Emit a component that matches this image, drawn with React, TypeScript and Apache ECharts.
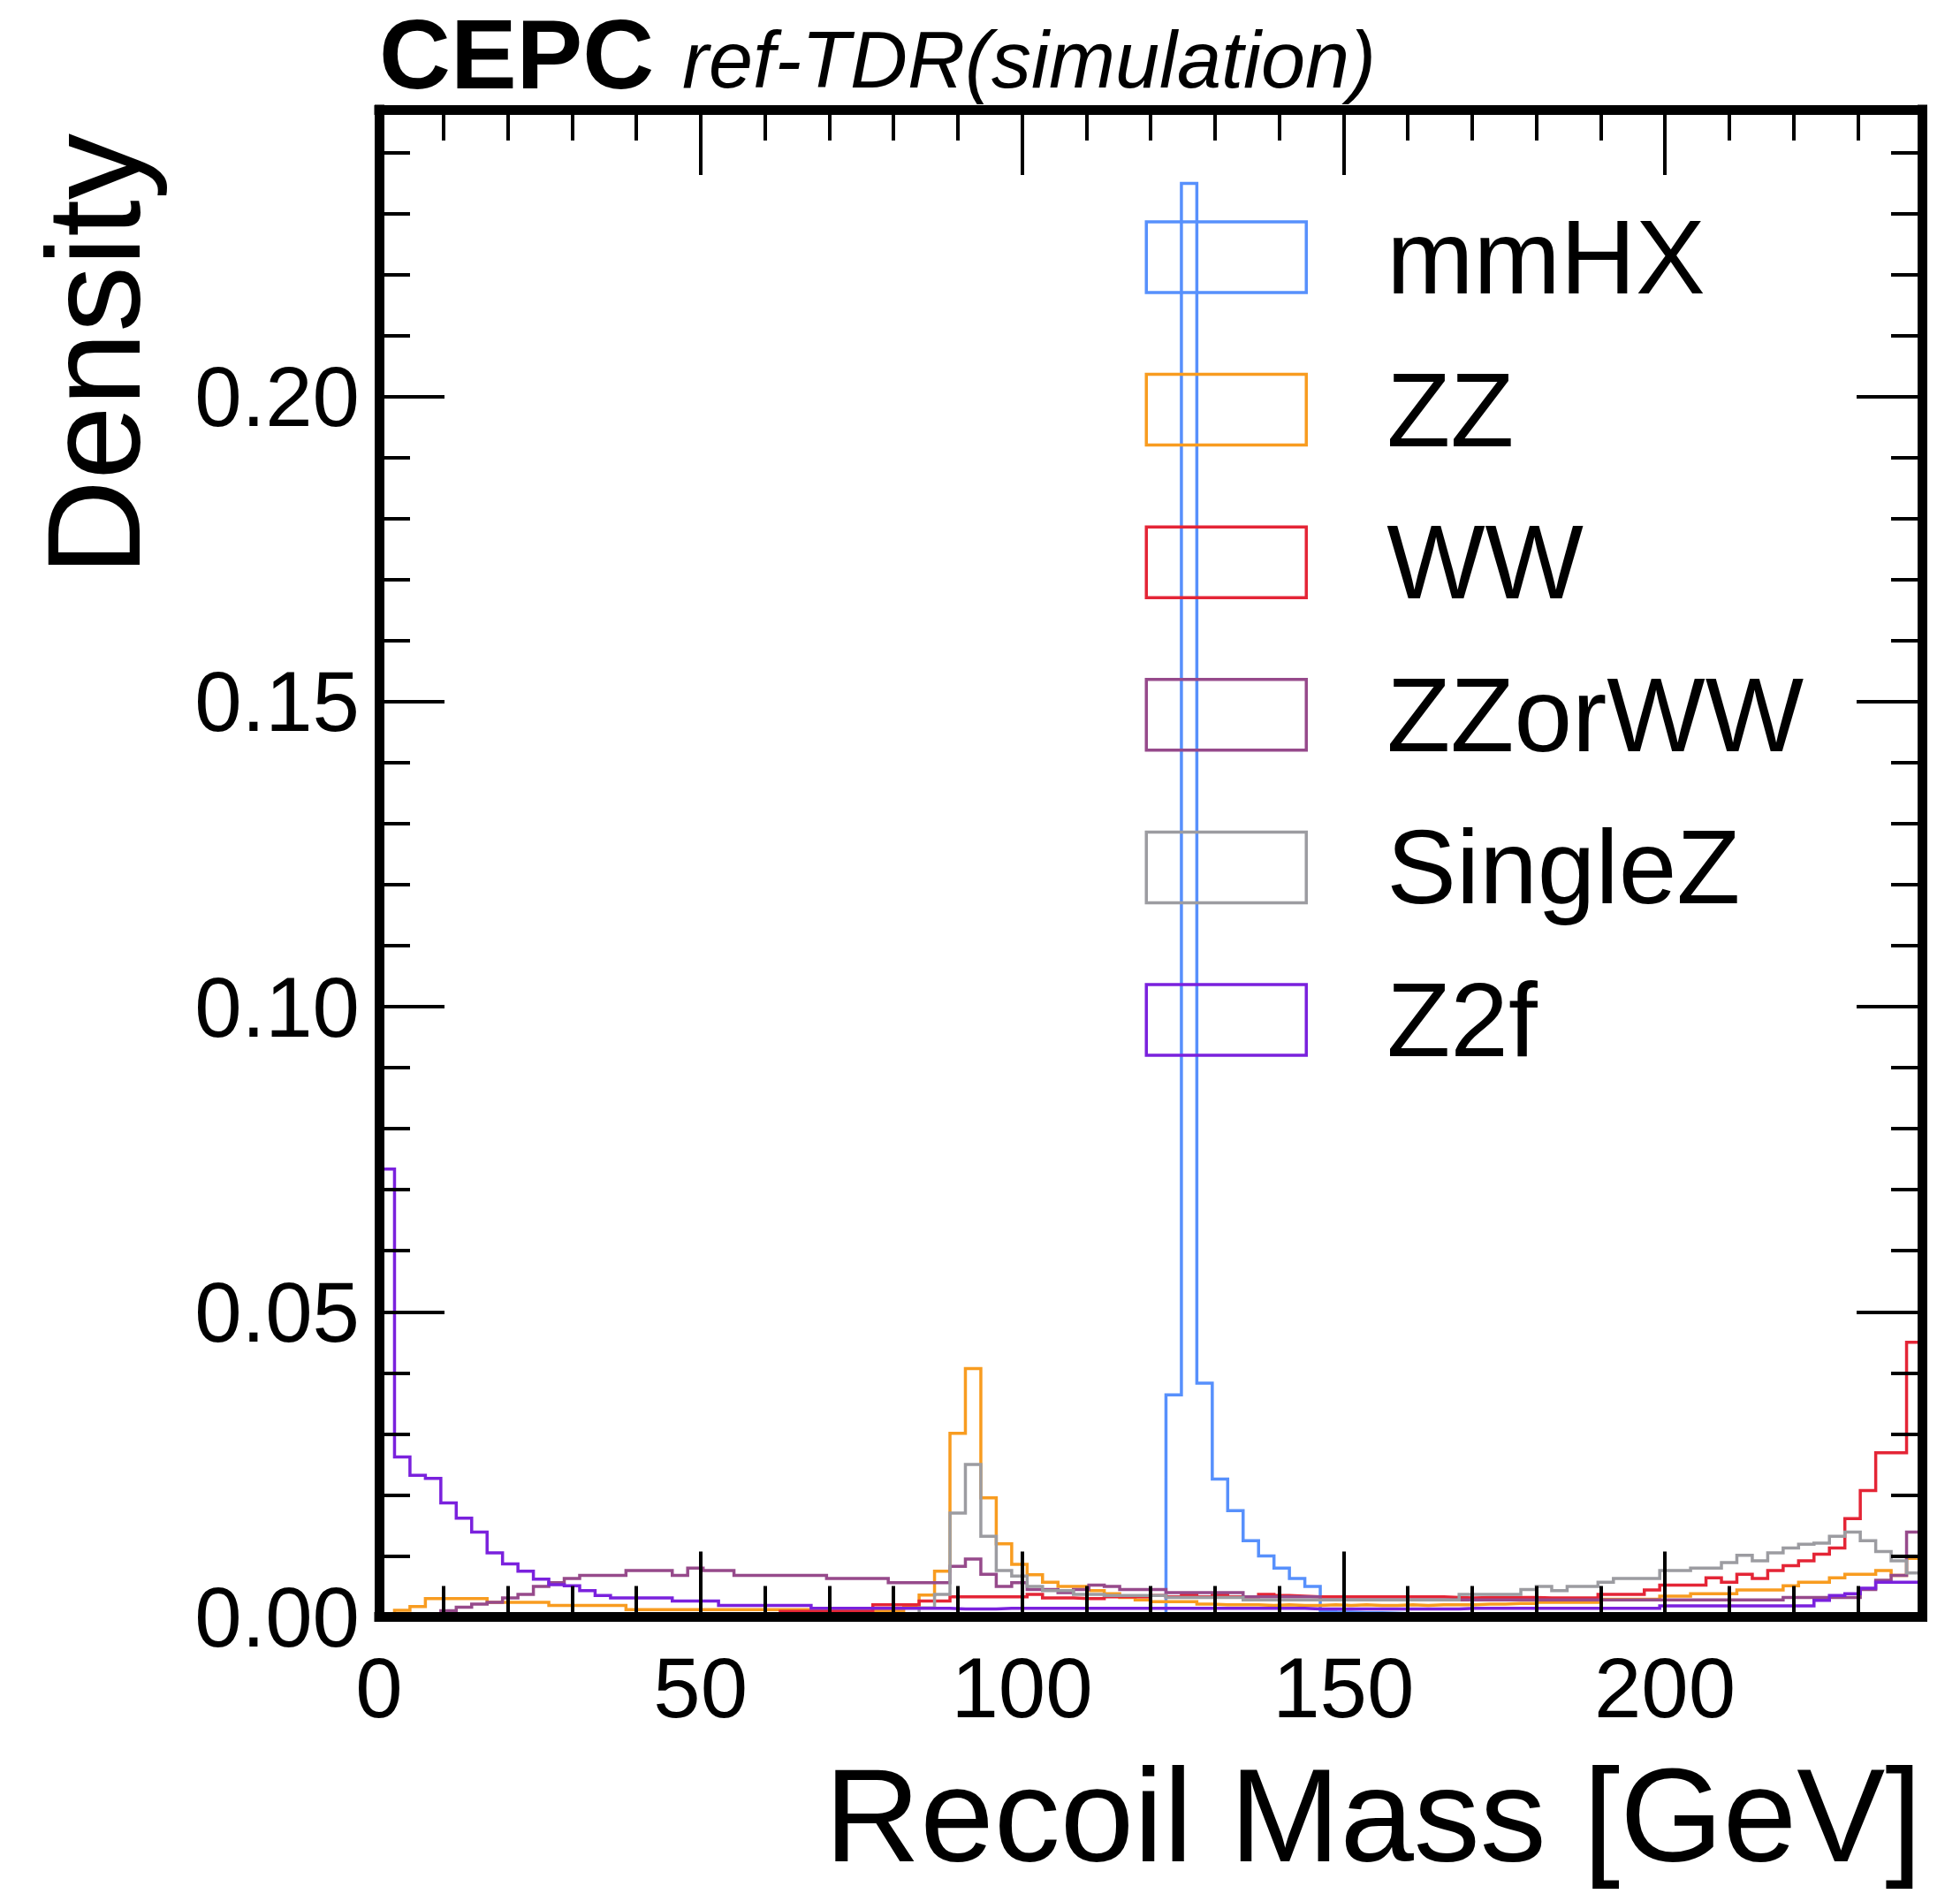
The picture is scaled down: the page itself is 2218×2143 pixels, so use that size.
import React, { useEffect, useRef } from "react";
import * as echarts from "echarts";

// ---- data ----
const BIN_WIDTH = 2.4;
const X_MIN = 0;
const X_MAX = 240;
const Y_MIN = 0;
const Y_MAX = 0.247;
const X_MAJOR = 50;
const X_MINOR = 10;
const Y_MAJOR = 0.05;
const Y_MINOR = 0.01;

const X_TITLE = "Recoil Mass [GeV]";
const Y_TITLE = "Density";
const EXPERIMENT = "CEPC";
const STATUS = "ref-TDR(simulation)";

const SERIES_NAMES = ["mmHX", "ZZ", "WW", "ZZorWW", "SingleZ", "Z2f"];
const SERIES_COLORS = ["#5790fc", "#f89c20", "#e42536", "#964a8b", "#9c9ca1", "#7a21dd"];

const mmHX = [
  0, 0, 0, 0, 0, 0, 0, 0, 0, 0,
  0, 0, 0, 0, 0, 0, 0, 0, 0, 0,
  0, 0, 0, 0, 0, 0, 0, 0, 0, 0,
  0, 0, 0, 0, 0, 0, 0, 0, 0, 0,
  0, 0, 0, 0, 0, 0, 0, 0, 0, 0,
  0.0002, 0.0364, 0.2349, 0.0383, 0.0226, 0.0174, 0.0125, 0.0100, 0.0080, 0.0063,
  0.0050, 0.0010, 0.0008, 0.0007, 0.0007, 0.0006, 0.0005, 0.0005, 0.0004, 0.0004,
  0.0004, 0.0003, 0.0003, 0.0003, 0.0003, 0.0003, 0.0003, 0.0003, 0.0003, 0.0003,
  0.0003, 0.0003, 0.0003, 0.0003, 0.0003, 0.0003, 0.0003, 0.0003, 0.0003, 0.0003,
  0.0003, 0.0003, 0.0003, 0.0003, 0.0003, 0.0003, 0.0003, 0.0003, 0.0003, 0.0003,
];

const ZZ = [
  0.0003, 0.0011, 0.0017, 0.0030, 0.0030, 0.0030, 0.0030, 0.0024, 0.0024, 0.0024,
  0.0024, 0.0019, 0.0019, 0.0019, 0.0019, 0.0019, 0.0012, 0.0012, 0.0012, 0.0012,
  0.0012, 0.0012, 0.0012, 0.0012, 0.0012, 0.0012, 0.0012, 0.0012, 0.0010, 0.0010,
  0.0010, 0.0010, 0.0010, 0.0010, 0.0018, 0.0036, 0.0075, 0.0301, 0.0407, 0.0195,
  0.0120, 0.0086, 0.0069, 0.0057, 0.0050, 0.0050, 0.0043, 0.0038, 0.0032, 0.0028,
  0.0025, 0.0025, 0.0025, 0.0021, 0.0020, 0.0020, 0.0020, 0.0019, 0.0020, 0.0019,
  0.0019, 0.0020, 0.0019, 0.0020, 0.0019, 0.0019, 0.0020, 0.0019, 0.0020, 0.0020,
  0.0020, 0.0021, 0.0021, 0.0022, 0.0022, 0.0024, 0.0024, 0.0024, 0.0024, 0.0029,
  0.0029, 0.0029, 0.0029, 0.0034, 0.0034, 0.0038, 0.0038, 0.0038, 0.0044, 0.0044,
  0.0044, 0.0051, 0.0057, 0.0057, 0.0064, 0.0070, 0.0070, 0.0076, 0.0068, 0.0096,
];

const WW = [
  0.0002, 0.0002, 0.0002, 0.0002, 0.0002, 0.0002, 0.0002, 0.0002, 0.0002, 0.0002,
  0.0002, 0.0002, 0.0002, 0.0002, 0.0002, 0.0002, 0.0002, 0.0002, 0.0002, 0.0002,
  0.0002, 0.0002, 0.0002, 0.0002, 0.0002, 0.0002, 0.0009, 0.0009, 0.0009, 0.0009,
  0.0009, 0.0009, 0.0020, 0.0020, 0.0020, 0.0026, 0.0026, 0.0033, 0.0033, 0.0033,
  0.0033, 0.0033, 0.0037, 0.0031, 0.0031, 0.0030, 0.0030, 0.0033, 0.0033, 0.0033,
  0.0035, 0.0033, 0.0036, 0.0033, 0.0036, 0.0033, 0.0033, 0.0037, 0.0035, 0.0034,
  0.0033, 0.0033, 0.0033, 0.0033, 0.0033, 0.0033, 0.0033, 0.0033, 0.0033, 0.0032,
  0.0031, 0.0032, 0.0032, 0.0032, 0.0032, 0.0031, 0.0031, 0.0031, 0.0031, 0.0037,
  0.0037, 0.0037, 0.0044, 0.0052, 0.0052, 0.0052, 0.0064, 0.0057, 0.0070, 0.0063,
  0.0076, 0.0084, 0.0092, 0.0103, 0.0113, 0.0161, 0.0207, 0.0269, 0.0269, 0.0450,
];

const ZZorWW = [
  0.0003, 0.0003, 0.0003, 0.0003, 0.0010, 0.0016, 0.0021, 0.0024, 0.0031, 0.0037,
  0.0050, 0.0056, 0.0063, 0.0068, 0.0068, 0.0068, 0.0076, 0.0076, 0.0076, 0.0068,
  0.0080, 0.0076, 0.0076, 0.0068, 0.0068, 0.0068, 0.0068, 0.0068, 0.0068, 0.0063,
  0.0063, 0.0063, 0.0063, 0.0056, 0.0056, 0.0056, 0.0056, 0.0083, 0.0095, 0.0070,
  0.0050, 0.0056, 0.0045, 0.0045, 0.0040, 0.0045, 0.0052, 0.0050, 0.0045, 0.0045,
  0.0045, 0.0040, 0.0040, 0.0040, 0.0040, 0.0040, 0.0033, 0.0033, 0.0033, 0.0033,
  0.0033, 0.0028, 0.0028, 0.0028, 0.0028, 0.0028, 0.0028, 0.0028, 0.0028, 0.0028,
  0.0028, 0.0028, 0.0028, 0.0028, 0.0028, 0.0028, 0.0028, 0.0028, 0.0028, 0.0028,
  0.0028, 0.0028, 0.0028, 0.0028, 0.0028, 0.0028, 0.0028, 0.0028, 0.0028, 0.0028,
  0.0028, 0.0032, 0.0032, 0.0032, 0.0032, 0.0032, 0.0045, 0.0060, 0.0068, 0.0139,
];

const SingleZ = [
  0.0003, 0.0003, 0.0003, 0.0003, 0.0003, 0.0003, 0.0003, 0.0003, 0.0003, 0.0003,
  0.0003, 0.0003, 0.0003, 0.0003, 0.0003, 0.0003, 0.0003, 0.0003, 0.0003, 0.0003,
  0.0003, 0.0003, 0.0003, 0.0003, 0.0003, 0.0003, 0.0003, 0.0003, 0.0003, 0.0003,
  0.0003, 0.0003, 0.0003, 0.0003, 0.0005, 0.0015, 0.0037, 0.0170, 0.0250, 0.0132,
  0.0076, 0.0067, 0.0050, 0.0043, 0.0043, 0.0037, 0.0037, 0.0035, 0.0035, 0.0035,
  0.0035, 0.0032, 0.0032, 0.0032, 0.0032, 0.0032, 0.0028, 0.0028, 0.0028, 0.0028,
  0.0028, 0.0028, 0.0028, 0.0028, 0.0028, 0.0028, 0.0028, 0.0028, 0.0028, 0.0028,
  0.0037, 0.0037, 0.0037, 0.0037, 0.0045, 0.0050, 0.0043, 0.0050, 0.0050, 0.0057,
  0.0063, 0.0063, 0.0063, 0.0076, 0.0076, 0.0080, 0.0080, 0.0089, 0.0101, 0.0092,
  0.0105, 0.0113, 0.0119, 0.0121, 0.0132, 0.0139, 0.0125, 0.0107, 0.0092, 0.0072,
];

const Z2f = [
  0.0734, 0.0262, 0.0232, 0.0227, 0.0187, 0.0162, 0.0139, 0.0105, 0.0087, 0.0075,
  0.0062, 0.0053, 0.0051, 0.0043, 0.0035, 0.0031, 0.0031, 0.0031, 0.0031, 0.0026,
  0.0026, 0.0026, 0.0019, 0.0019, 0.0019, 0.0019, 0.0019, 0.0019, 0.0014, 0.0014,
  0.0014, 0.0014, 0.0014, 0.0014, 0.0014, 0.0014, 0.0014, 0.0013, 0.0013, 0.0013,
  0.0014, 0.0014, 0.0014, 0.0014, 0.0014, 0.0014, 0.0014, 0.0014, 0.0014, 0.0014,
  0.0014, 0.0014, 0.0014, 0.0014, 0.0014, 0.0014, 0.0014, 0.0014, 0.0014, 0.0014,
  0.0013, 0.0013, 0.0013, 0.0013, 0.0013, 0.0013, 0.0013, 0.0013, 0.0013, 0.0013,
  0.0014, 0.0014, 0.0014, 0.0014, 0.0014, 0.0014, 0.0014, 0.0014, 0.0014, 0.0014,
  0.0014, 0.0014, 0.0014, 0.0018, 0.0018, 0.0018, 0.0018, 0.0018, 0.0018, 0.0018,
  0.0018, 0.0018, 0.0018, 0.0027, 0.0035, 0.0038, 0.0047, 0.0057, 0.0057, 0.0057,
];

const SERIES_VALUES = [mmHX, ZZ, WW, ZZorWW, SingleZ, Z2f];

// ---- helpers ----
const FONT = "'Liberation Sans', Arial, Helvetica, sans-serif";
const LINE_W = 3.5;

function stepData(values: number[]): [number, number][] {
  const pts: [number, number][] = [[X_MIN, 0]];
  values.forEach((v, i) => pts.push([+(X_MIN + i * BIN_WIDTH).toFixed(4), v]));
  const end = +(X_MIN + values.length * BIN_WIDTH).toFixed(4);
  pts.push([end, values[values.length - 1]]);
  pts.push([end, 0]);
  return pts;
}

const frameLine = {
  show: true,
  onZero: false,
  lineStyle: { color: "#000", width: 11, cap: "square" },
};

function xAxisDef(position: string, interval: number, tickLen: number, withLabels: boolean, withLine: boolean) {
  return {
    type: "value",
    position,
    min: X_MIN,
    max: X_MAX,
    interval,
    z: 5,
    axisLine: withLine ? frameLine : { show: false, onZero: false },
    axisTick: { show: true, inside: true, length: tickLen, lineStyle: { color: "#000", width: 4 } },
    axisLabel: withLabels
      ? {
          show: true,
          margin: 32,
          fontSize: 96,
          color: "#000",
          fontFamily: FONT,
          showMaxLabel: false,
          formatter: (v: number) => String(Math.round(v)),
        }
      : { show: false },
    splitLine: { show: false },
  };
}

function yAxisDef(position: string, interval: number, tickLen: number, withLabels: boolean, withLine: boolean) {
  return {
    type: "value",
    position,
    min: Y_MIN,
    max: Y_MAX,
    interval,
    z: 5,
    axisLine: withLine ? frameLine : { show: false, onZero: false },
    axisTick: { show: true, inside: true, length: tickLen, lineStyle: { color: "#000", width: 4 } },
    axisLabel: withLabels
      ? {
          show: true,
          margin: 22,
          fontSize: 96,
          color: "#000",
          fontFamily: FONT,
          showMaxLabel: false,
          formatter: (v: number) => v.toFixed(2),
        }
      : { show: false },
    splitLine: { show: false },
  };
}

export default function App() {
  const ref = useRef<HTMLDivElement>(null);

  useEffect(() => {
    if (!ref.current) return;
    const chart = echarts.init(ref.current, undefined, { renderer: "svg" });

    const option = {
      animation: false,
      backgroundColor: "#ffffff",
      grid: { left: 429, top: 124, width: 1746, height: 1705.5, containLabel: false },
      xAxis: [
        xAxisDef("bottom", X_MAJOR, 74, true, true),
        xAxisDef("bottom", X_MINOR, 35, false, false),
        xAxisDef("top", X_MAJOR, 74, false, true),
        xAxisDef("top", X_MINOR, 35, false, false),
      ],
      yAxis: [
        yAxisDef("left", Y_MAJOR, 74, true, true),
        yAxisDef("left", Y_MINOR, 35, false, false),
        yAxisDef("right", Y_MAJOR, 74, false, true),
        yAxisDef("right", Y_MINOR, 35, false, false),
      ],
      legend: {
        show: true,
        orient: "vertical",
        left: 1295.5,
        top: 232,
        padding: 0,
        itemWidth: 181,
        itemHeight: 80,
        itemGap: 54.6,
        icon: "rect",
        symbolKeepAspect: false,
        selectedMode: false,
        textStyle: { fontSize: 118, color: "#000", fontFamily: FONT, padding: [0, 0, 0, 86] },
        data: SERIES_NAMES.map((name, i) => ({
          name,
          icon: "rect",
          itemStyle: { color: "rgba(0,0,0,0)", borderColor: SERIES_COLORS[i], borderWidth: LINE_W },
        })),
      },
      series: SERIES_NAMES.map((name, i) => ({
        type: "line",
        name,
        data: stepData(SERIES_VALUES[i]),
        step: "end",
        symbol: "none",
        showSymbol: false,
        xAxisIndex: 0,
        yAxisIndex: 0,
        z: 2,
        silent: true,
        color: SERIES_COLORS[i],
        lineStyle: { color: SERIES_COLORS[i], width: LINE_W, join: "miter" },
        itemStyle: { color: SERIES_COLORS[i] },
      })),
      graphic: [
        {
          type: "text",
          x: 429,
          y: 61,
          silent: true,
          style: {
            text: EXPERIMENT,
            fontSize: 112,
            fontWeight: "bold",
            fontFamily: FONT,
            fill: "#000",
            align: "left",
            verticalAlign: "middle",
          },
        },
        {
          type: "text",
          x: 772,
          y: 68,
          silent: true,
          style: {
            text: STATUS,
            fontSize: 90,
            fontStyle: "italic",
            fontFamily: FONT,
            fill: "#000",
            align: "left",
            verticalAlign: "middle",
          },
        },
        {
          type: "text",
          x: 106,
          y: 151,
          rotation: Math.PI / 2,
          silent: true,
          style: {
            text: Y_TITLE,
            fontSize: 150,
            fontFamily: FONT,
            fill: "#000",
            align: "right",
            verticalAlign: "middle",
          },
        },
        {
          type: "text",
          x: 2175,
          y: 2054,
          silent: true,
          style: {
            text: X_TITLE,
            fontSize: 150,
            fontFamily: FONT,
            fill: "#000",
            align: "right",
            verticalAlign: "middle",
          },
        },
      ],
    };

    chart.setOption(option as any);
    return () => chart.dispose();
  }, []);

  return (
    <div
      ref={ref}
      style={{ position: "fixed", left: 0, top: 0, width: 2218, height: 2143, background: "#fff" }}
    />
  );
}
